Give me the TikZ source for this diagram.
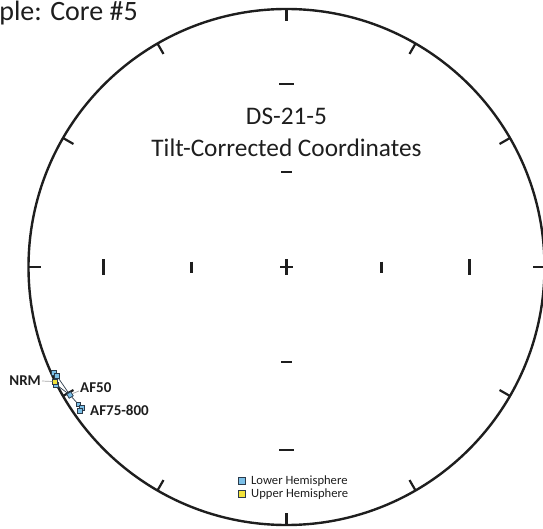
\documentclass[tikz,border=0pt]{standalone}
\usepackage{fontspec}
\setmainfont{Carlito}
\definecolor{ink}{HTML}{1E1E1E}
\definecolor{lowfill}{HTML}{7CC0E8}
\definecolor{upfill}{HTML}{F2E23A}
\definecolor{edge}{HTML}{2B3A4A}
\tikzset{
  net/.style={line width=2.4pt, draw=ink},
  tickmark/.style={line width=2.2pt, draw=ink},
  lowpt/.style={draw=edge, fill=lowfill, line width=0.6pt, minimum size=4.6pt, inner sep=0pt},
  uppt/.style={draw=edge, fill=upfill, line width=0.6pt, minimum size=4.6pt, inner sep=0pt},
  path/.style={draw=edge, line width=0.7pt},
  leader/.style={draw=gray!70, line width=0.7pt},
  lab/.style={font=\bfseries\fontsize{15}{17}\selectfont, text=ink, inner sep=1pt},
  legtext/.style={font=\fontsize{12.6}{14}\selectfont, text=ink, inner sep=0pt, anchor=west},
  bigtext/.style={font=\fontsize{25.3}{29}\selectfont, text=ink, inner sep=0pt}
}
\begin{document}
\begin{tikzpicture}[x=1pt,y=-1pt]
\useasboundingbox (0,0) rectangle (543,529);
\def\cx{286.5}\def\cy{267}\def\R{258}
% primitive circle
\draw[net] (\cx,\cy) circle[radius=\R];
% azimuth ticks every 30 degrees
\foreach \a in {0,30,...,330}{
  \draw[tickmark] ({\cx+\R*sin(\a)},{\cy-\R*cos(\a)}) -- ({\cx+(\R-12)*sin(\a)},{\cy-(\R-12)*cos(\a)});
}
% centre cross
\draw[tickmark] (\cx-6.5,\cy) -- (\cx+6.5,\cy);
\draw[tickmark] (\cx,\cy-7.5) -- (\cx,\cy+7.5);
% inclination ticks at 30 and 60 degrees (equal-area)
\foreach \s in {-1,1}{
  \draw[tickmark] ({\cx+\s*183},\cy-7.5) -- ({\cx+\s*183},\cy+7.5);
  \draw[tickmark] ({\cx+\s*95},\cy-5.5) -- ({\cx+\s*95},\cy+5.5);
  \draw[tickmark] (\cx-7.5,{\cy+\s*183}) -- (\cx+7.5,{\cy+\s*183});
  \draw[tickmark] (\cx-5.5,{\cy+\s*95}) -- (\cx+5.5,{\cy+\s*95});
}
% titles
\node[bigtext, font=\fontsize{28}{32}\selectfont, anchor=base east] (sample) at (138,21) {Sample: Core \#5};
\node[bigtext] (site) at (\cx,116) {DS-21-5};
\node[bigtext] (frame) at (\cx,148) {Tilt-Corrected Coordinates};
% demagnetisation path
\node[lowpt] (p1) at (54,372.5) {};
\node[lowpt] (p2) at (56.7,375.7) {};
\node[uppt]  (p3) at (55,381.5) {};
\node[lowpt] (p4) at (56,384.5) {};
\node[lowpt, rotate=30] (p5) at (70,395) {};
\node[lowpt] (p6) at (78.3,404.3) {};
\node[lowpt] (p7) at (81.7,407.7) {};
\node[lowpt] (p8) at (80,410.5) {};
\draw[path] (p1.center) -- (p2.center) -- (p3.center) -- (p4.center) -- (p5.center) -- (p6.center) -- (p7.center) -- (p8.center);
\draw[path] (p2.center) -- (p5.center);
\foreach \n in {p1,p2,p4,p6,p7,p8}{\node[lowpt] at (\n) {};}
\node[lowpt, rotate=30] at (p5) {};
\node[uppt] at (p3) {};
% step labels
\node[lab, anchor=east] (nrm) at (42,381) {NRM};
\node[lab, anchor=west] (af50) at (79,388) {AF50};
\node[lab, anchor=west] (af75) at (89,410) {AF75-800};
\draw[leader] (nrm.east) -- (p3.west);
\draw[leader] (af50.west) ++(0,3) -- (p5.east);
% legend
\node[lowpt, minimum size=6.5pt] (lkey) at (242,481) {};
\node[uppt, minimum size=6.5pt] (ukey) at (242,494) {};
\node[legtext] (ltext) at (251,481) {Lower Hemisphere};
\node[legtext] (utext) at (251,494) {Upper Hemisphere};
\end{tikzpicture}
\end{document}
